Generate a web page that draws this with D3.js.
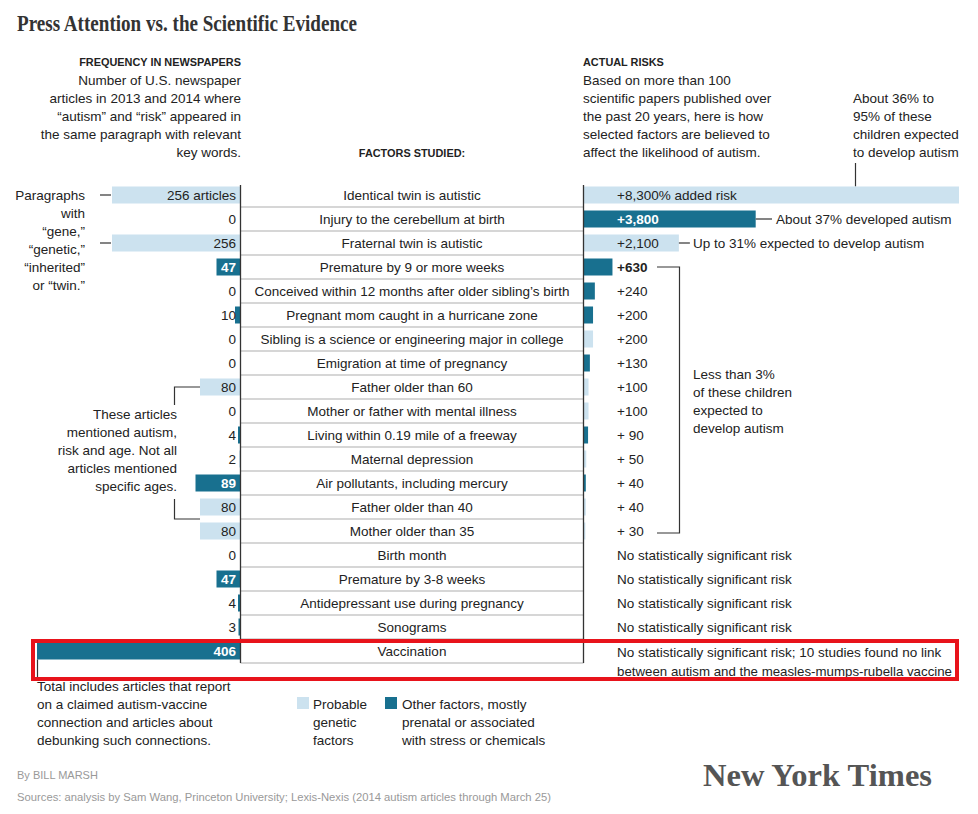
<!DOCTYPE html>
<html>
<head>
<meta charset="utf-8">
<script src="https://cdn.jsdelivr.net/npm/d3@7"></script>
<style>
  html, body { margin: 0; padding: 0; background: #fff; }
  svg { display: block; }
  text { font-family: "Liberation Sans", Arial, sans-serif; fill: #222; }
</style>
</head>
<body>
<svg id="chart" width="978" height="814"></svg>
<script>
// ---------------- DATA ----------------
const factors = [
  "Identical twin is autistic",
  "Injury to the cerebellum at birth",
  "Fraternal twin is autistic",
  "Premature by 9 or more weeks",
  "Conceived within 12 months after older sibling’s birth",
  "Pregnant mom caught in a hurricane zone",
  "Sibling is a science or engineering major in college",
  "Emigration at time of pregnancy",
  "Father older than 60",
  "Mother or father with mental illness",
  "Living within 0.19 mile of a freeway",
  "Maternal depression",
  "Air pollutants, including mercury",
  "Father older than 40",
  "Mother older than 35",
  "Birth month",
  "Premature by 3-8 weeks",
  "Antidepressant use during pregnancy",
  "Sonograms",
  "Vaccination"
];
const articles = [256, 0, 256, 47, 0, 10, 0, 0, 80, 0, 4, 2, 89, 80, 80, 0, 47, 4, 3, 406];
const risks = [8300, 3800, 2100, 630, 240, 200, 200, 130, 100, 100, 90, 50, 40, 40, 30, null, null, null, null, null];
const riskLabels = [
  "+8,300% added risk", "+3,800", "+2,100", "+630", "+240", "+200", "+200", "+130",
  "+100", "+100", "+ 90", "+ 50", "+ 40", "+ 40", "+ 30",
  "No statistically significant risk", "No statistically significant risk",
  "No statistically significant risk", "No statistically significant risk",
  "No statistically significant risk; 10 studies found no link"
];
const factorType = [
  "genetic", "other", "genetic", "other", "other", "other", "genetic", "other",
  "genetic", "genetic", "other", "genetic", "other", "genetic", "genetic",
  "other", "other", "other", "other", "other"
];
const title = "Press Attention vs. the Scientific Evidence";
const leftHeadTitle = "FREQUENCY IN NEWSPAPERS";
const leftHeadLines = ["Number of U.S. newspaper", "articles in 2013 and 2014 where",
  "“autism” and “risk” appeared in", "the same paragraph with relevant", "key words."];
const centerHead = "FACTORS STUDIED:";
const rightHeadTitle = "ACTUAL RISKS";
const rightHeadLines = ["Based on more than 100", "scientific papers published over",
  "the past 20 years, here is how", "selected factors are believed to", "affect the likelihood of autism."];
const twinNote = ["About 36% to", "95% of these", "children expected", "to develop autism"];
const geneNote = ["Paragraphs", "with", "“gene,”", "“genetic,”", "“inherited”", "or “twin.”"];
const ageNote = ["These articles", "mentioned autism,", "risk and age. Not all", "articles mentioned", "specific ages."];
const lowRiskNote = ["Less than 3%", "of these children", "expected to", "develop autism"];
const vaccineNote = ["Total includes articles that report", "on a claimed autism-vaccine",
  "connection and articles about", "debunking such connections."];
const vaccineRiskLine2 = "between autism and the measles-mumps-rubella vaccine";
const note37 = "About 37% developed autism";
const note31 = "Up to 31% expected to develop autism";
const legendGenetic = ["Probable", "genetic", "factors"];
const legendOther = ["Other factors, mostly", "prenatal or associated", "with stress or chemicals"];
const byline = "By BILL MARSH";
const sources = "Sources: analysis by Sam Wang, Princeton University; Lexis-Nexis (2014 autism articles through March 25)";
const logo = "New York Times";

// ---------------- LAYOUT ----------------
const colors = { genetic: "#cce2ef", other: "#18708f" };
const svg = d3.select("#chart");
svg.append("rect").attr("width", 978).attr("height", 814).attr("fill", "#fff");

const rows = factors.map((f, i) => ({ f, a: articles[i], r: risks[i], lab: riskLabels[i], t: factorType[i], i }));

const y = d3.scaleBand().domain(factors).range([183, 663]).padding(0);
const rowC = i => y(factors[i]) + y.bandwidth() / 2;
const barH = 17;

const leftAxisX = 240.5;
const xL = d3.scaleLinear().domain([0, 406]).range([0, 203]);
const rightAxisX = 583.5;
const xR = d3.scaleLinear().domain([0, 8300]).range([0, 375]);

const FS = 13.5;

// Title
svg.append("text").attr("x", 17).attr("y", 31)
  .style("font-family", "'Liberation Serif', 'Times New Roman', serif")
  .style("font-weight", "bold").style("font-size", "23px").style("fill", "#333")
  .attr("textLength", 340).attr("lengthAdjust", "spacingAndGlyphs")
  .text(title);

// Left header
svg.append("text").attr("x", 241).attr("y", 62).attr("dy", "0.35em").attr("text-anchor", "end")
  .style("font-weight", "bold").style("font-size", "10.9px").text(leftHeadTitle);
leftHeadLines.forEach((l, k) => svg.append("text").attr("x", 241).attr("y", 80 + 18 * k)
  .attr("dy", "0.35em").attr("text-anchor", "end").style("font-size", FS + "px").text(l));

// Center header
svg.append("text").attr("x", 412).attr("y", 153).attr("dy", "0.35em").attr("text-anchor", "middle")
  .style("font-weight", "bold").style("font-size", "10.9px").text(centerHead);

// Right header
svg.append("text").attr("x", 583).attr("y", 62).attr("dy", "0.35em")
  .style("font-weight", "bold").style("font-size", "10.9px").text(rightHeadTitle);
rightHeadLines.forEach((l, k) => svg.append("text").attr("x", 583).attr("y", 80 + 18 * k)
  .attr("dy", "0.35em").style("font-size", FS + "px").text(l));

// Twin note (top right)
twinNote.forEach((l, k) => svg.append("text").attr("x", 853).attr("y", 98 + 18 * k)
  .attr("dy", "0.35em").style("font-size", FS + "px").text(l));
svg.append("line").attr("x1", 855.5).attr("x2", 855.5).attr("y1", 163).attr("y2", y(factors[0]) + 3.5)
  .attr("stroke", "#333").attr("stroke-width", 1.2);

// Row separators
svg.selectAll("line.sep").data(rows).join("line").attr("class", "sep")
  .attr("x1", leftAxisX).attr("x2", rightAxisX)
  .attr("y1", d => y(d.f) + y.bandwidth()).attr("y2", d => y(d.f) + y.bandwidth())
  .attr("stroke", "#c8c8c8").attr("stroke-width", 1.5);

// Left bars
svg.selectAll("rect.lbar").data(rows.filter(d => d.a > 0)).join("rect").attr("class", "lbar")
  .attr("x", d => leftAxisX - 0.5 - xL(d.a)).attr("y", d => y(d.f) + 3.5)
  .attr("width", d => xL(d.a)).attr("height", barH)
  .attr("fill", d => colors[d.t]);

// Left labels
svg.selectAll("text.llab").data(rows).join("text").attr("class", "llab")
  .attr("x", 236).attr("y", d => rowC(d.i)).attr("dy", "0.35em").attr("text-anchor", "end")
  .style("font-size", FS + "px")
  .style("font-weight", d => (d.t === "other" && d.a >= 40) ? "bold" : "normal")
  .style("fill", d => (d.t === "other" && d.a >= 40) ? "#fff" : "#222")
  .text(d => d.i === 0 ? d.a + " articles" : d.a);

// Center labels
svg.selectAll("text.clab").data(rows).join("text").attr("class", "clab")
  .attr("x", 412).attr("y", d => rowC(d.i)).attr("dy", "0.35em").attr("text-anchor", "middle")
  .style("font-size", FS + "px").text(d => d.f);

// Right bars
svg.selectAll("rect.rbar").data(rows.filter(d => d.r != null)).join("rect").attr("class", "rbar")
  .attr("x", rightAxisX + 0.5).attr("y", d => y(d.f) + 3.5)
  .attr("width", d => xR(d.r)).attr("height", barH)
  .attr("fill", d => colors[d.t]);

// Right labels
svg.selectAll("text.rlab").data(rows).join("text").attr("class", "rlab")
  .attr("x", 617).attr("y", d => rowC(d.i) + (d.i === 19 ? 1 : 0)).attr("dy", "0.35em")
  .style("font-size", FS + "px")
  .style("font-weight", d => (d.t === "other" && d.r >= 600) ? "bold" : "normal")
  .style("fill", d => (d.t === "other" && d.r >= 3000) ? "#fff" : "#222")
  .text(d => d.lab);
svg.append("text").attr("x", 617).attr("y", rowC(19) + 20).attr("dy", "0.35em")
  .style("font-size", FS + "px")
  .attr("textLength", 335).attr("lengthAdjust", "spacingAndGlyphs").text(vaccineRiskLine2);

// Axes (vertical lines)
svg.append("line").attr("x1", leftAxisX).attr("x2", leftAxisX).attr("y1", 185).attr("y2", 663)
  .attr("stroke", "#333").attr("stroke-width", 1.3);
svg.append("line").attr("x1", rightAxisX).attr("x2", rightAxisX).attr("y1", 185).attr("y2", 663)
  .attr("stroke", "#333").attr("stroke-width", 1.3);

// Gene note
geneNote.forEach((l, k) => svg.append("text").attr("x", 85).attr("y", rowC(0) + 18 * k)
  .attr("dy", "0.35em").attr("text-anchor", "end").style("font-size", FS + "px").text(l));
[0, 2].forEach(i => svg.append("line").attr("x1", 100).attr("x2", 111)
  .attr("y1", rowC(i)).attr("y2", rowC(i)).attr("stroke", "#333").attr("stroke-width", 1.2));

// Age note
ageNote.forEach((l, k) => svg.append("text").attr("x", 177).attr("y", 414 + 18 * k)
  .attr("dy", "0.35em").attr("text-anchor", "end").style("font-size", FS + "px").text(l));
svg.append("path").attr("d", `M200,${rowC(8)}H174.5V405`).attr("fill", "none")
  .attr("stroke", "#333").attr("stroke-width", 1.2);
svg.append("path").attr("d", `M174.5,499V${y(factors[14])}H200`).attr("fill", "none")
  .attr("stroke", "#333").attr("stroke-width", 1.2);

// Vaccine note
const vacLeft = leftAxisX - 0.5 - xL(articles[19]);
svg.append("line").attr("x1", vacLeft + 0.5).attr("x2", vacLeft + 0.5)
  .attr("y1", y(factors[19]) + 3.5 + barH).attr("y2", 679)
  .attr("stroke", "#333").attr("stroke-width", 1.2);
vaccineNote.forEach((l, k) => svg.append("text").attr("x", 37).attr("y", 686 + 18 * k)
  .attr("dy", "0.35em").style("font-size", FS + "px").text(l));

// 37% and 31% notes
const end1 = rightAxisX + 0.5 + xR(risks[1]);
svg.append("line").attr("x1", end1).attr("x2", 772).attr("y1", rowC(1)).attr("y2", rowC(1))
  .attr("stroke", "#333").attr("stroke-width", 1.2);
svg.append("text").attr("x", 776).attr("y", rowC(1)).attr("dy", "0.35em")
  .style("font-size", FS + "px").text(note37);
const end2 = rightAxisX + 0.5 + xR(risks[2]);
svg.append("line").attr("x1", end2).attr("x2", end2 + 11).attr("y1", rowC(2)).attr("y2", rowC(2))
  .attr("stroke", "#333").attr("stroke-width", 1.2);
svg.append("text").attr("x", 693).attr("y", rowC(2)).attr("dy", "0.35em")
  .style("font-size", FS + "px").text(note31);

// Low risk bracket
svg.append("path").attr("d", `M657,${rowC(3)}H679.5V${rowC(14) + 2}H657`).attr("fill", "none")
  .attr("stroke", "#333").attr("stroke-width", 1.2);
lowRiskNote.forEach((l, k) => svg.append("text").attr("x", 693).attr("y", 374 + 18 * k)
  .attr("dy", "0.35em").style("font-size", FS + "px").text(l));

// Legend
svg.append("rect").attr("x", 297).attr("y", 697).attr("width", 12).attr("height", 12).attr("fill", colors.genetic);
legendGenetic.forEach((l, k) => svg.append("text").attr("x", 313).attr("y", 704 + 18 * k)
  .attr("dy", "0.35em").style("font-size", FS + "px").text(l));
svg.append("rect").attr("x", 385).attr("y", 697).attr("width", 12).attr("height", 12).attr("fill", colors.other);
legendOther.forEach((l, k) => svg.append("text").attr("x", 402).attr("y", 704 + 18 * k)
  .attr("dy", "0.35em").style("font-size", FS + "px").text(l));

// Footer
svg.append("text").attr("x", 17).attr("y", 775).attr("dy", "0.35em")
  .style("font-size", "11px").style("fill", "#999").text(byline);
svg.append("text").attr("x", 17).attr("y", 797).attr("dy", "0.35em")
  .style("font-size", "11.5px").style("fill", "#999")
  .attr("textLength", 534).attr("lengthAdjust", "spacingAndGlyphs").text(sources);
svg.append("text").attr("x", 703).attr("y", 786)
  .style("font-family", "'Liberation Serif', serif").style("font-weight", "bold")
  .style("font-size", "31px").style("fill", "#555")
  .attr("textLength", 229).attr("lengthAdjust", "spacingAndGlyphs").text(logo);

// Red highlight box
svg.append("rect").attr("x", 33).attr("y", 641).attr("width", 924).attr("height", 38)
  .attr("fill", "none").attr("stroke", "#e8131b").attr("stroke-width", 4);
</script>
</body>
</html>
